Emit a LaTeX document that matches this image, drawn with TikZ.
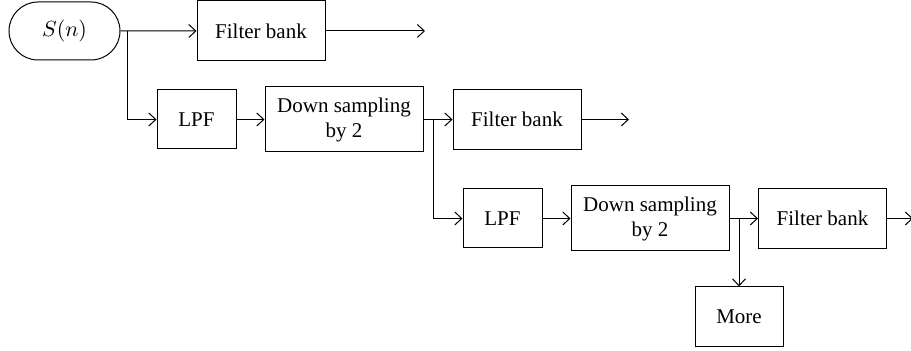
\documentclass[tikz,border=0pt]{standalone}
\usepackage{fontspec}
\setmainfont{Liberation Serif}
\usetikzlibrary{arrows.meta,positioning,shapes.misc}
\tikzset{
  block/.style={draw,line width=0.5pt,align=center,inner sep=0pt,
    font=\fontsize{10.5}{12.5}\selectfont},
  source/.style={block,rounded rectangle,minimum width=55.5pt,minimum height=29pt},
  filter/.style={block,minimum width=64pt,minimum height=30pt},
  lowpass/.style={block,minimum width=39.5pt,minimum height=29.5pt},
  sampler/.style={block,minimum width=79pt,minimum height=32.5pt},
  arrow/.style={-{Straight Barb[length=3.5pt,width=6.5pt]},line width=0.5pt}
}
\begin{document}
\begin{tikzpicture}[x=0.5pt,y=-0.5pt]
  \useasboundingbox (0,0) rectangle (911,351);
  % first stage
  \node[source] (sn) at (64.5,31) {$S(n)$};
  \node[filter] (fb1) at (261,31) {Filter bank};
  \node[lowpass] (lpf1) at (196.5,119.5) {LPF};
  \node[sampler] (ds1) at (344,119.5) {Down sampling\\by 2};
  % second stage
  \node[filter] (fb2) at (517,119.5) {Filter bank};
  \node[lowpass] (lpf2) at (502.5,218.5) {LPF};
  \node[sampler] (ds2) at (650,218.5) {Down sampling\\by 2};
  % third stage
  \node[filter] (fb3) at (822.5,218.5) {Filter bank};
  \node[block,minimum width=44pt,minimum height=30pt] (more) at (739,317) {More};
  \coordinate (j1) at (127,31);
  \coordinate (j2) at (433,119.5);
  \coordinate (j3) at (739,218.5);
  \coordinate (o1) at (425,31);
  \coordinate (o2) at (629,119.5);
  \coordinate (o3) at (913,218.5);
  \draw[arrow] (sn) -- (fb1);
  \draw[arrow] (fb1) -- (o1);
  \draw[arrow] (j1) |- (lpf1);
  \draw[arrow] (lpf1) -- (ds1);
  \draw[arrow] (ds1) -- (fb2);
  \draw[arrow] (fb2) -- (o2);
  \draw[arrow] (j2) |- (lpf2);
  \draw[arrow] (lpf2) -- (ds2);
  \draw[arrow] (ds2) -- (fb3);
  \draw[arrow] (fb3) -- (o3);
  \draw[arrow] (j3) -- (more);
\end{tikzpicture}
\end{document}
